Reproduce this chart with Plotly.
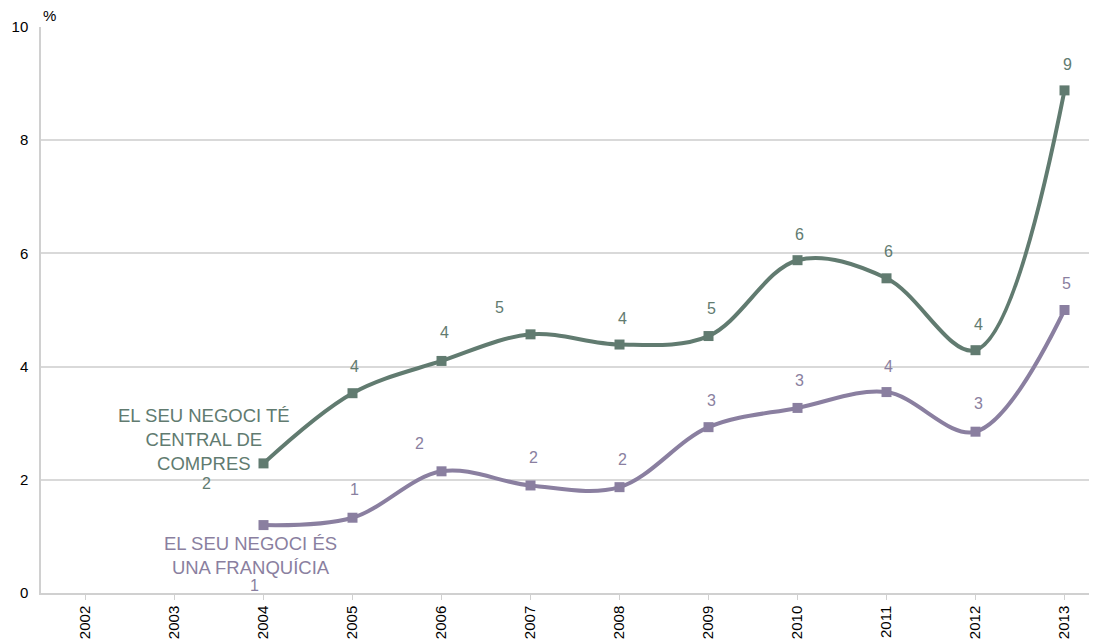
import plotly.graph_objects as go

years = [2002, 2003, 2004, 2005, 2006, 2007, 2008, 2009, 2010, 2011, 2012, 2013]
data_years = [2004, 2005, 2006, 2007, 2008, 2009, 2010, 2011, 2012, 2013]
central_compres = [2.29, 3.53, 4.10, 4.57, 4.39, 4.54, 5.88, 5.56, 4.29, 8.88]
franquicia = [1.20, 1.33, 2.15, 1.90, 1.87, 2.93, 3.27, 3.55, 2.85, 5.00]
name_central = "EL SEU NEGOCI TÉ<br>CENTRAL DE<br>COMPRES"
name_franq = "EL SEU NEGOCI ÉS<br>UNA FRANQUÍCIA"

GREEN = "#617B70"
PURPLE = "#8A7FA0"
FONT = "Liberation Sans, Arial, sans-serif"

# label offsets (px) for data labels
green_off = [(-57, -20), (2, 27), (3, 28), (-31, 27), (3, 26), (3, 28), (2, 26), (2, 27), (3, 26), (3, 26)]
purple_off = [(-9, -60), (2, 28), (-22, 28), (3, 28), (3, 28), (3, 27), (2, 27), (2, 26), (3, 28), (2, 27)]

fig = go.Figure()
for ys, col in [(central_compres, GREEN), (franquicia, PURPLE)]:
    fig.add_trace(go.Scatter(
        x=data_years, y=ys, mode="lines+markers",
        line=dict(color=col, width=4, shape="spline", smoothing=1.0),
        marker=dict(symbol="square", size=10, color=col),
        showlegend=False, hoverinfo="skip"))

annotations = []
for ys, col, offs in [(central_compres, GREEN, green_off), (franquicia, PURPLE, purple_off)]:
    for x, y, (dx, dy) in zip(data_years, ys, offs):
        annotations.append(dict(x=x, y=y, xref="x", yref="y", text=str(round(y)),
                                showarrow=False, xshift=dx, yshift=dy,
                                font=dict(family=FONT, size=16, color=col)))

annotations.append(dict(x=data_years[0], y=central_compres[0], xref="x", yref="y",
                        text=name_central, showarrow=False, xshift=-60, yshift=24,
                        font=dict(family=FONT, size=18.5, color=GREEN), align="center"))
annotations.append(dict(x=data_years[0], y=franquicia[0], xref="x", yref="y",
                        text=name_franq, showarrow=False, xshift=-13, yshift=-30,
                        font=dict(family=FONT, size=18.5, color=PURPLE), align="center"))
annotations.append(dict(xref="paper", yref="paper", x=0.0076, y=1.0212,
                        text="%", showarrow=False, xanchor="center", yanchor="middle",
                        font=dict(family=FONT, size=15, color="#000000")))

# the page body has an 8px margin, so the figure is sized to end at the window edge
fig.update_layout(
    width=1089, height=631,
    margin=dict(l=33, r=0, t=19, b=46),
    paper_bgcolor="white", plot_bgcolor="white",
    font=dict(family=FONT, color="#000000"),
    annotations=annotations,
    xaxis=dict(range=[2001.5, 2013.365], tickmode="array", tickvals=years,
               ticktext=[str(y) for y in years], tickangle=-90,
               tickfont=dict(family=FONT, size=15, color="#000000"),
               showgrid=False, showline=True, linecolor="#D0D0D0", linewidth=1.5,
               ticks="outside", ticklen=5, tickcolor="#D0D0D0", zeroline=False,
               automargin=False, fixedrange=True),
    yaxis=dict(range=[0, 10], tickvals=[0, 2, 4, 6, 8, 10],
               tickfont=dict(family=FONT, size=15, color="#000000"),
               showgrid=True, gridcolor="#D9D9D9", gridwidth=1.5,
               showline=True, linecolor="#D0D0D0", linewidth=1.5,
               zeroline=False, ticks="", ticklabelstandoff=8,
               automargin=False, fixedrange=True),
)

fig.write_html("out.html")
